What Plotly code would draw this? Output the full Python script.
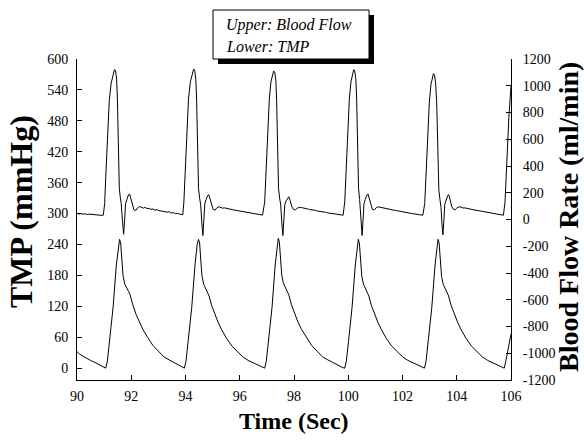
import plotly.graph_objects as go

# ---------------- data ----------------
flow_t = [
    90.00, 90.08, 90.15, 90.22, 90.30, 90.38, 90.45, 90.52, 90.60, 90.68, 90.75, 90.82, 90.90, 90.97,
    91.02, 91.06, 91.12, 91.19, 91.26, 91.32, 91.38, 91.42, 91.46, 91.49, 91.52, 91.56, 91.60, 91.63,
    91.68, 91.72, 91.76, 91.79, 91.84, 91.90, 91.94, 91.98, 92.04, 92.10, 92.17, 92.24, 92.31, 92.38,
    92.45, 92.52, 92.58, 92.65, 92.72, 92.80, 92.87, 92.95, 93.02, 93.10, 93.18, 93.25, 93.32, 93.40,
    93.47, 93.55, 93.62, 93.70, 93.78, 93.85, 93.90,
    93.94, 93.98, 94.04, 94.11, 94.18, 94.24, 94.30, 94.34, 94.38, 94.41, 94.44, 94.48, 94.52, 94.56,
    94.60, 94.64, 94.68, 94.71, 94.76, 94.82, 94.86, 94.90, 94.96, 95.02, 95.09, 95.16, 95.23, 95.30,
    95.37, 95.44, 95.50, 95.57, 95.64, 95.72, 95.79, 95.87, 95.94, 96.02, 96.10, 96.17, 96.24, 96.32,
    96.39, 96.47, 96.54, 96.62, 96.70, 96.77, 96.84,
    96.92, 96.96, 97.02, 97.09, 97.15, 97.20, 97.25, 97.29, 97.33, 97.36, 97.39, 97.43, 97.47, 97.51,
    97.55, 97.59, 97.63, 97.66, 97.71, 97.77, 97.81, 97.86, 97.92, 97.98, 98.05, 98.12, 98.20, 98.28,
    98.35, 98.42, 98.50, 98.57, 98.64, 98.72, 98.80, 98.87, 98.95, 99.02, 99.10, 99.17, 99.24, 99.32,
    99.39, 99.47, 99.54, 99.62, 99.70, 99.77, 99.81,
    99.87, 99.91, 99.97, 100.04, 100.10, 100.15, 100.20, 100.24, 100.28, 100.31, 100.34, 100.38, 100.42,
    100.45, 100.48, 100.51, 100.55, 100.58, 100.63, 100.69, 100.73, 100.77, 100.83, 100.89, 100.96,
    101.03, 101.10, 101.18, 101.25, 101.32, 101.40, 101.47, 101.54, 101.62, 101.70, 101.77, 101.85,
    101.92, 102.00, 102.07, 102.15, 102.22, 102.30, 102.37, 102.45, 102.52, 102.60, 102.67, 102.75,
    102.82, 102.86, 102.92, 102.99, 103.05, 103.10, 103.14, 103.18, 103.22, 103.26, 103.30, 103.34,
    103.38, 103.42, 103.45, 103.49, 103.53, 103.56, 103.61, 103.67, 103.71, 103.75, 103.81, 103.87,
    103.94, 104.01, 104.08, 104.16, 104.23, 104.30, 104.38, 104.45, 104.52, 104.60, 104.67, 104.75,
    104.82, 104.90, 104.97, 105.05, 105.12, 105.20, 105.27, 105.35, 105.42, 105.50, 105.57, 105.65,
    105.72,
    105.78, 105.84, 105.92, 106.00,
]
flow_ml_min = [
    46, 41, 44, 40, 43, 37, 40, 38, 36, 37, 33, 35, 31, 32,
    120, 320, 640, 890, 1020, 1070, 1120, 1115, 1050, 900, 560, 230, 160, 120,
    -20, -110, 10, 120, 150, 185, 190, 160, 100, 72, 68, 88, 97, 93,
    85, 91, 82, 83, 76, 79, 70, 74, 66, 64, 60, 57, 55, 58,
    48, 52, 44, 45, 40, 41, 35,
    130, 330, 650, 900, 1030, 1075, 1125, 1115, 1050, 900, 560, 230, 160, 110,
    -20, -120, 10, 115, 150, 180, 185, 155, 100, 75, 70, 88, 95, 91,
    85, 87, 83, 79, 77, 74, 71, 68, 66, 62, 59, 58, 53, 52,
    47, 46, 43, 41, 38, 36, 33,
    130, 330, 650, 900, 1030, 1070, 1110, 1100, 1040, 890, 560, 230, 160, 110,
    -20, -120, 10, 110, 140, 165, 170, 140, 95, 75, 72, 85, 90, 89,
    84, 83, 79, 75, 74, 69, 68, 63, 62, 58, 55, 54, 49, 48,
    45, 42, 41, 38, 36, 34, 32,
    130, 330, 650, 900, 1030, 1075, 1120, 1110, 1050, 900, 560, 230, 150,
    80, -30, -120, 10, 120, 150, 185, 190, 160, 100, 75, 72,
    88, 95, 91, 86, 85, 81, 78, 76, 72, 69, 67, 63,
    60, 58, 54, 52, 49, 46, 44, 41, 38, 37, 34, 32,
    120, 320, 630, 880, 1010, 1060, 1090, 1080, 1020, 880, 540, 220,
    150, 90, -20, -115, 10, 115, 145, 180, 185, 155, 100, 78,
    72, 88, 95, 92, 86, 87, 82, 80, 77, 73, 71, 68,
    64, 62, 59, 56, 53, 51, 47, 45, 42, 40, 37, 35,
    32,
    130, 420, 760, 1000,
]

tmp_t = [
    90.00, 90.10, 90.20, 90.35, 90.50, 90.70, 90.88, 91.00, 91.06, 91.12, 91.20, 91.33, 91.45, 91.53,
    91.57, 91.61, 91.66, 91.70, 91.76, 91.83, 91.90, 91.96, 92.05, 92.18, 92.30, 92.43, 92.60, 92.80,
    93.00, 93.20, 93.40, 93.60, 93.80, 93.91,
    93.96, 94.02, 94.10, 94.23, 94.35, 94.43, 94.48, 94.52, 94.57, 94.61, 94.67, 94.74, 94.81, 94.87,
    94.96, 95.09, 95.21, 95.34, 95.51, 95.71, 95.91, 96.11, 96.31, 96.51, 96.71, 96.85,
    96.92, 96.98, 97.06, 97.19, 97.31, 97.38, 97.42, 97.46, 97.51, 97.55, 97.61, 97.68, 97.75, 97.81,
    97.90, 98.03, 98.15, 98.28, 98.45, 98.65, 98.85, 99.05, 99.25, 99.45, 99.65, 99.80,
    99.87, 99.93, 100.01, 100.14, 100.26, 100.33, 100.37, 100.41, 100.46, 100.50, 100.56, 100.63,
    100.70, 100.76, 100.85, 100.98, 101.10, 101.23, 101.40, 101.60, 101.80, 102.00, 102.20, 102.40,
    102.60, 102.75,
    102.81, 102.87, 102.95, 103.08, 103.20, 103.27, 103.31, 103.35, 103.40, 103.44, 103.50, 103.57,
    103.64, 103.70, 103.79, 103.92, 104.04, 104.17, 104.34, 104.54, 104.74, 104.94, 105.14, 105.34,
    105.54, 105.68,
    105.75, 105.81, 105.90, 106.00,
]
tmp_mmhg = [
    32, 27, 24, 19, 15, 10, 5, 1, 0, 14, 52, 118, 200, 240,
    250, 243, 205, 178, 163, 157, 149, 142, 124, 104, 89, 75, 60, 44,
    33, 22, 16, 10, 5, 1,
    0, 14, 52, 118, 200, 240, 250, 243, 205, 178, 163, 156, 148, 140,
    122, 103, 88, 74, 58, 43, 32, 22, 15, 10, 5, 1,
    0, 14, 52, 118, 202, 242, 252, 245, 207, 180, 165, 158, 150, 142,
    124, 104, 89, 75, 60, 44, 33, 22, 16, 10, 5, 1,
    0, 14, 52, 118, 200, 240, 250, 243, 205, 178, 163, 156,
    148, 140, 122, 103, 88, 74, 58, 43, 32, 22, 15, 10,
    5, 1,
    0, 14, 52, 118, 200, 240, 250, 243, 205, 178, 163, 156,
    148, 140, 122, 103, 88, 74, 58, 43, 32, 22, 15, 10,
    5, 1,
    0, 14, 40, 66,
]

x_ticks = [90, 92, 94, 96, 98, 100, 102, 104, 106]
tmp_ticks = [0, 60, 120, 180, 240, 300, 360, 420, 480, 540, 600]
flow_ticks = [-1200, -1000, -800, -600, -400, -200, 0, 200, 400, 600, 800, 1000, 1200]
flow_tick_text = ["-1200", "-1000", "-800", "-600", "-400", "-200", "0",
                  "200", "400", "600", "800", "1000", "1200"]

# ---------------- figure ----------------
FONT = "Liberation Serif"
W, H = 584, 440
ML, MR, MT, MB = 77, 73, 59, 60
PW, PH = W - ML - MR, H - MT - MB


def px_x(p):
    return (p - ML) / PW


def px_y(p):
    return (H - MB - p) / PH


fig = go.Figure()
fig.add_trace(go.Scatter(x=flow_t, y=flow_ml_min, yaxis="y2", mode="lines",
                         line=dict(color="black", width=1), name="Blood Flow"))
fig.add_trace(go.Scatter(x=tmp_t, y=tmp_mmhg, mode="lines",
                         line=dict(color="black", width=1), name="TMP"))

axis_common = dict(showline=True, linecolor="black", linewidth=1, ticks="inside",
                   ticklen=5, tickcolor="black", showgrid=False, zeroline=False,
                   automargin=False,
                   tickfont=dict(family=FONT, size=14, color="black"))

fig.update_layout(
    width=W, height=H,
    margin=dict(l=ML, r=MR, t=MT, b=MB, autoexpand=False),
    paper_bgcolor="white", plot_bgcolor="white",
    showlegend=False,
    font=dict(family=FONT, color="black"),
    xaxis=dict(range=[90, 106], tickvals=x_ticks, ticklabelstandoff=3, **axis_common),
    yaxis=dict(range=[-23, 600], tickvals=tmp_ticks, ticklabelstandoff=5, **axis_common),
    yaxis2=dict(range=[-1200, 1200], tickvals=flow_ticks, ticktext=flow_tick_text,
                overlaying="y", side="right", ticklabelstandoff=8, **axis_common),
)

# axis titles
fig.add_annotation(xref="paper", yref="paper", x=0.5, y=px_y(421),
                   xanchor="center", yanchor="middle", showarrow=False,
                   text="<b>Time (Sec)</b>", font=dict(family=FONT, size=24, color="black"))
fig.add_annotation(xref="paper", yref="paper", x=px_x(21), y=px_y(212),
                   xanchor="center", yanchor="middle", showarrow=False, textangle=-90,
                   text="<b>TMP (mmHg)</b>", font=dict(family=FONT, size=32, color="black"))
fig.add_annotation(xref="paper", yref="paper", x=px_x(568), y=px_y(217),
                   xanchor="center", yanchor="middle", showarrow=False, textangle=-90,
                   text="<b>Blood Flow Rate (ml/min)</b>", font=dict(family=FONT, size=28, color="black"))

# legend-like note box with a drop shadow
fig.add_shape(type="rect", xref="paper", yref="paper",
              x0=px_x(218), x1=px_x(374), y0=px_y(64), y1=px_y(15),
              fillcolor="black", line=dict(color="black", width=0))
fig.add_shape(type="rect", xref="paper", yref="paper",
              x0=px_x(213), x1=px_x(369), y0=px_y(59), y1=px_y(10),
              fillcolor="white", line=dict(color="black", width=1))
fig.add_annotation(xref="paper", yref="paper", x=px_x(224), y=px_y(25),
                   xanchor="left", yanchor="middle", showarrow=False,
                   text="<i>Upper: Blood Flow</i>", font=dict(family=FONT, size=16, color="black"))
fig.add_annotation(xref="paper", yref="paper", x=px_x(224), y=px_y(46),
                   xanchor="left", yanchor="middle", showarrow=False,
                   text="<i>Lower: TMP</i>", font=dict(family=FONT, size=16, color="black"))

# the page is photographed at 584x440: drop the browser's default body margin
fig.write_html("out.html", config={"displayModeBar": False},
               post_script="document.body.style.margin='0';")
